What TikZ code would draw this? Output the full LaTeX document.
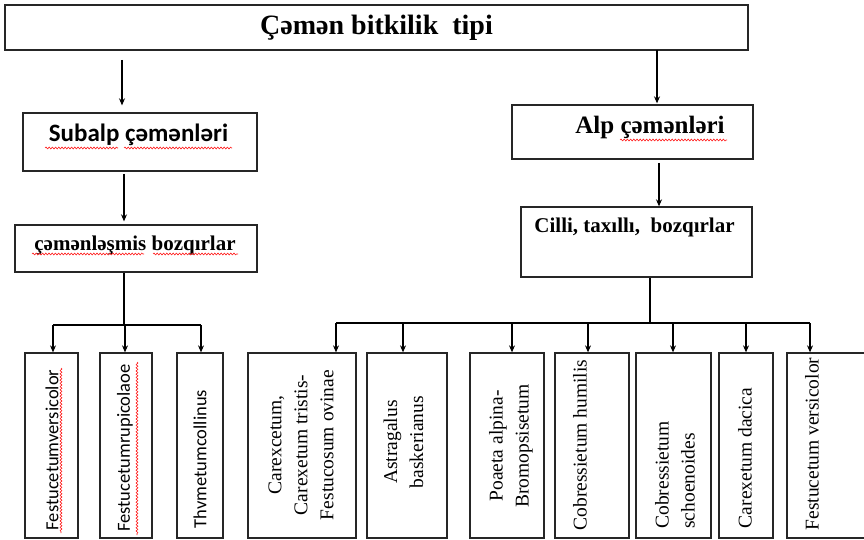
\documentclass[tikz,border=0pt]{standalone}
\usepackage{fontspec}
\setmainfont{Liberation Serif}
\newfontfamily\calib{Carlito}
\usetikzlibrary{arrows.meta,decorations.pathmorphing}
\begin{document}
\begin{tikzpicture}[x=1pt,y=-1pt,
  box/.style={draw=black!85,line width=1.3pt,inner sep=0pt},
  conn/.style={line width=1.1pt},
  arr/.style={conn,-{Stealth[length=7pt,width=6pt]}},
  spell/.style={draw=red!90,line width=0.6pt,decorate,
    decoration={snake,amplitude=0.9pt,segment length=3.2pt}},
  vsans/.style={rotate=90,font=\calib\fontsize{18.5}{22}\selectfont,inner sep=0pt},
  vserif/.style={rotate=90,font=\fontsize{19.5}{26}\selectfont,inner sep=0pt,align=center},
  hbold/.style={font=\bfseries\fontsize{21}{24}\selectfont,inner sep=0pt},
]
\clip (0,0) rectangle (864,540);
\fill[white] (0,0) rectangle (864,540);

% upper boxes
\node[box,minimum width=743pt,minimum height=45pt,
      font=\bfseries\fontsize{28}{30}\selectfont] (title) at (376.5,27.5) {Çəmən bitkilik\ \ tipi};
\node[box,minimum width=234pt,minimum height=58pt] (subalp) at (140,142) {};
\node[inner sep=0pt,font=\calib\bfseries\fontsize{25}{28}\selectfont] (subalpt) at (138.5,135) {Subalp çəmənləri};
\node[box,minimum width=242pt,minimum height=47pt] (cem) at (136,248.5) {};
\node[hbold] (cemt) at (135,245) {çəmənləşmis\ bozqırlar};
\node[box,minimum width=241pt,minimum height=54pt] (alp) at (632.5,132) {};
\node[inner sep=0pt,font=\bfseries\fontsize{25}{28}\selectfont] (alpt) at (650,127) {Alp çəmənləri};
\node[box,minimum width=231pt,minimum height=70pt] (cilli) at (636.5,242) {};
\node[hbold] (cillit) at (634.5,227) {Cilli, taxıllı,\ \ bozqırlar};

% spelling marks under the words
\draw[spell] (45,148) -- (118,148);
\draw[spell] (124,148) -- (232,148);
\draw[spell] (32,254) -- (144,254);
\draw[spell] (153,254) -- (238,254);
\draw[spell] (620,140) -- (727,140);

% bottom boxes
\foreach \n/\cx/\w in {b1/51.5/53, b2/126/52, b3/200/46, b4/302/108, b5/407/80,
                       b6/507/74, b7/592/74, b8/673.5/75, b9/746/54, b10/828.5/83}
  \node[box,minimum width=\w pt,minimum height=185pt] (\n) at (\cx,445.5) {};

\node[vsans] (t1) at (52,450) {Festucetumversicolor};
\node[vsans] (t2) at (125,448) {Festucetumrupicolaoe};
\node[vsans] (t3) at (200,459) {Thvmetumcollinus};
\node[vserif] (t4) at (301,445) {Carexcetum,\\Carexetum tristis-\\Festucosum\ ovinae};
\node[vserif] (t5) at (403.5,442) {Astragalus\\baskerianus};
\node[vserif] (t6) at (511,446) {Poaeta alpina-\\Bromopsisetum};
\node[vserif] (t7) at (580,445) {Cobressietum humilis};
\node[vserif,align=left] (t8) at (675,475) {Cobressietum\\schoenoides};
\node[vserif] (t9) at (745,458) {Carexetum dacica};
\node[vserif] (t10) at (812,444) {Festucetum versicolor};

\draw[spell] (61,368) -- (61,533);
\draw[spell] (137,362) -- (137,535);

% connectors
\coordinate (tl) at (122,60);
\draw[arr,shorten >=7pt] (tl) -- (tl |- subalp.north);
\coordinate (tr) at (657,50);
\draw[arr,shorten >=1pt] (tr) -- (tr |- alp.north);
\coordinate (sc) at (124,171);
\draw[arr,shorten <=3pt,shorten >=3pt] (sc) -- (sc |- cem.north);
\coordinate (ac) at (659,159);
\draw[arr,shorten <=4pt] (ac) -- (ac |- cilli.north);

% left bus
\coordinate (lj) at (124,325);
\coordinate (a1) at (53,325);
\coordinate (a2) at (125,325);
\coordinate (a3) at (201,325);
\draw[conn] (lj |- cem.south) -- (lj);
\draw[conn] (a1) -- (a3);
\foreach \a/\b in {a1/b1,a2/b2,a3/b3}
  \draw[arr] (\a) -- (\a |- \b.north);

% right bus
\coordinate (rj) at (650,323);
\coordinate (a4) at (336,323);
\coordinate (a5) at (403,323);
\coordinate (a6) at (512,323);
\coordinate (a7) at (588,323);
\coordinate (a8) at (673,323);
\coordinate (a9) at (746,323);
\coordinate (a10) at (810,323);
\draw[conn] (rj |- cilli.south) -- (rj);
\draw[conn] (a4) -- (a10);
\foreach \a/\b in {a4/b4,a5/b5,a6/b6,a7/b7,a8/b8,a9/b9,a10/b10}
  \draw[arr] (\a) -- (\a |- \b.north);
\end{tikzpicture}
\end{document}
